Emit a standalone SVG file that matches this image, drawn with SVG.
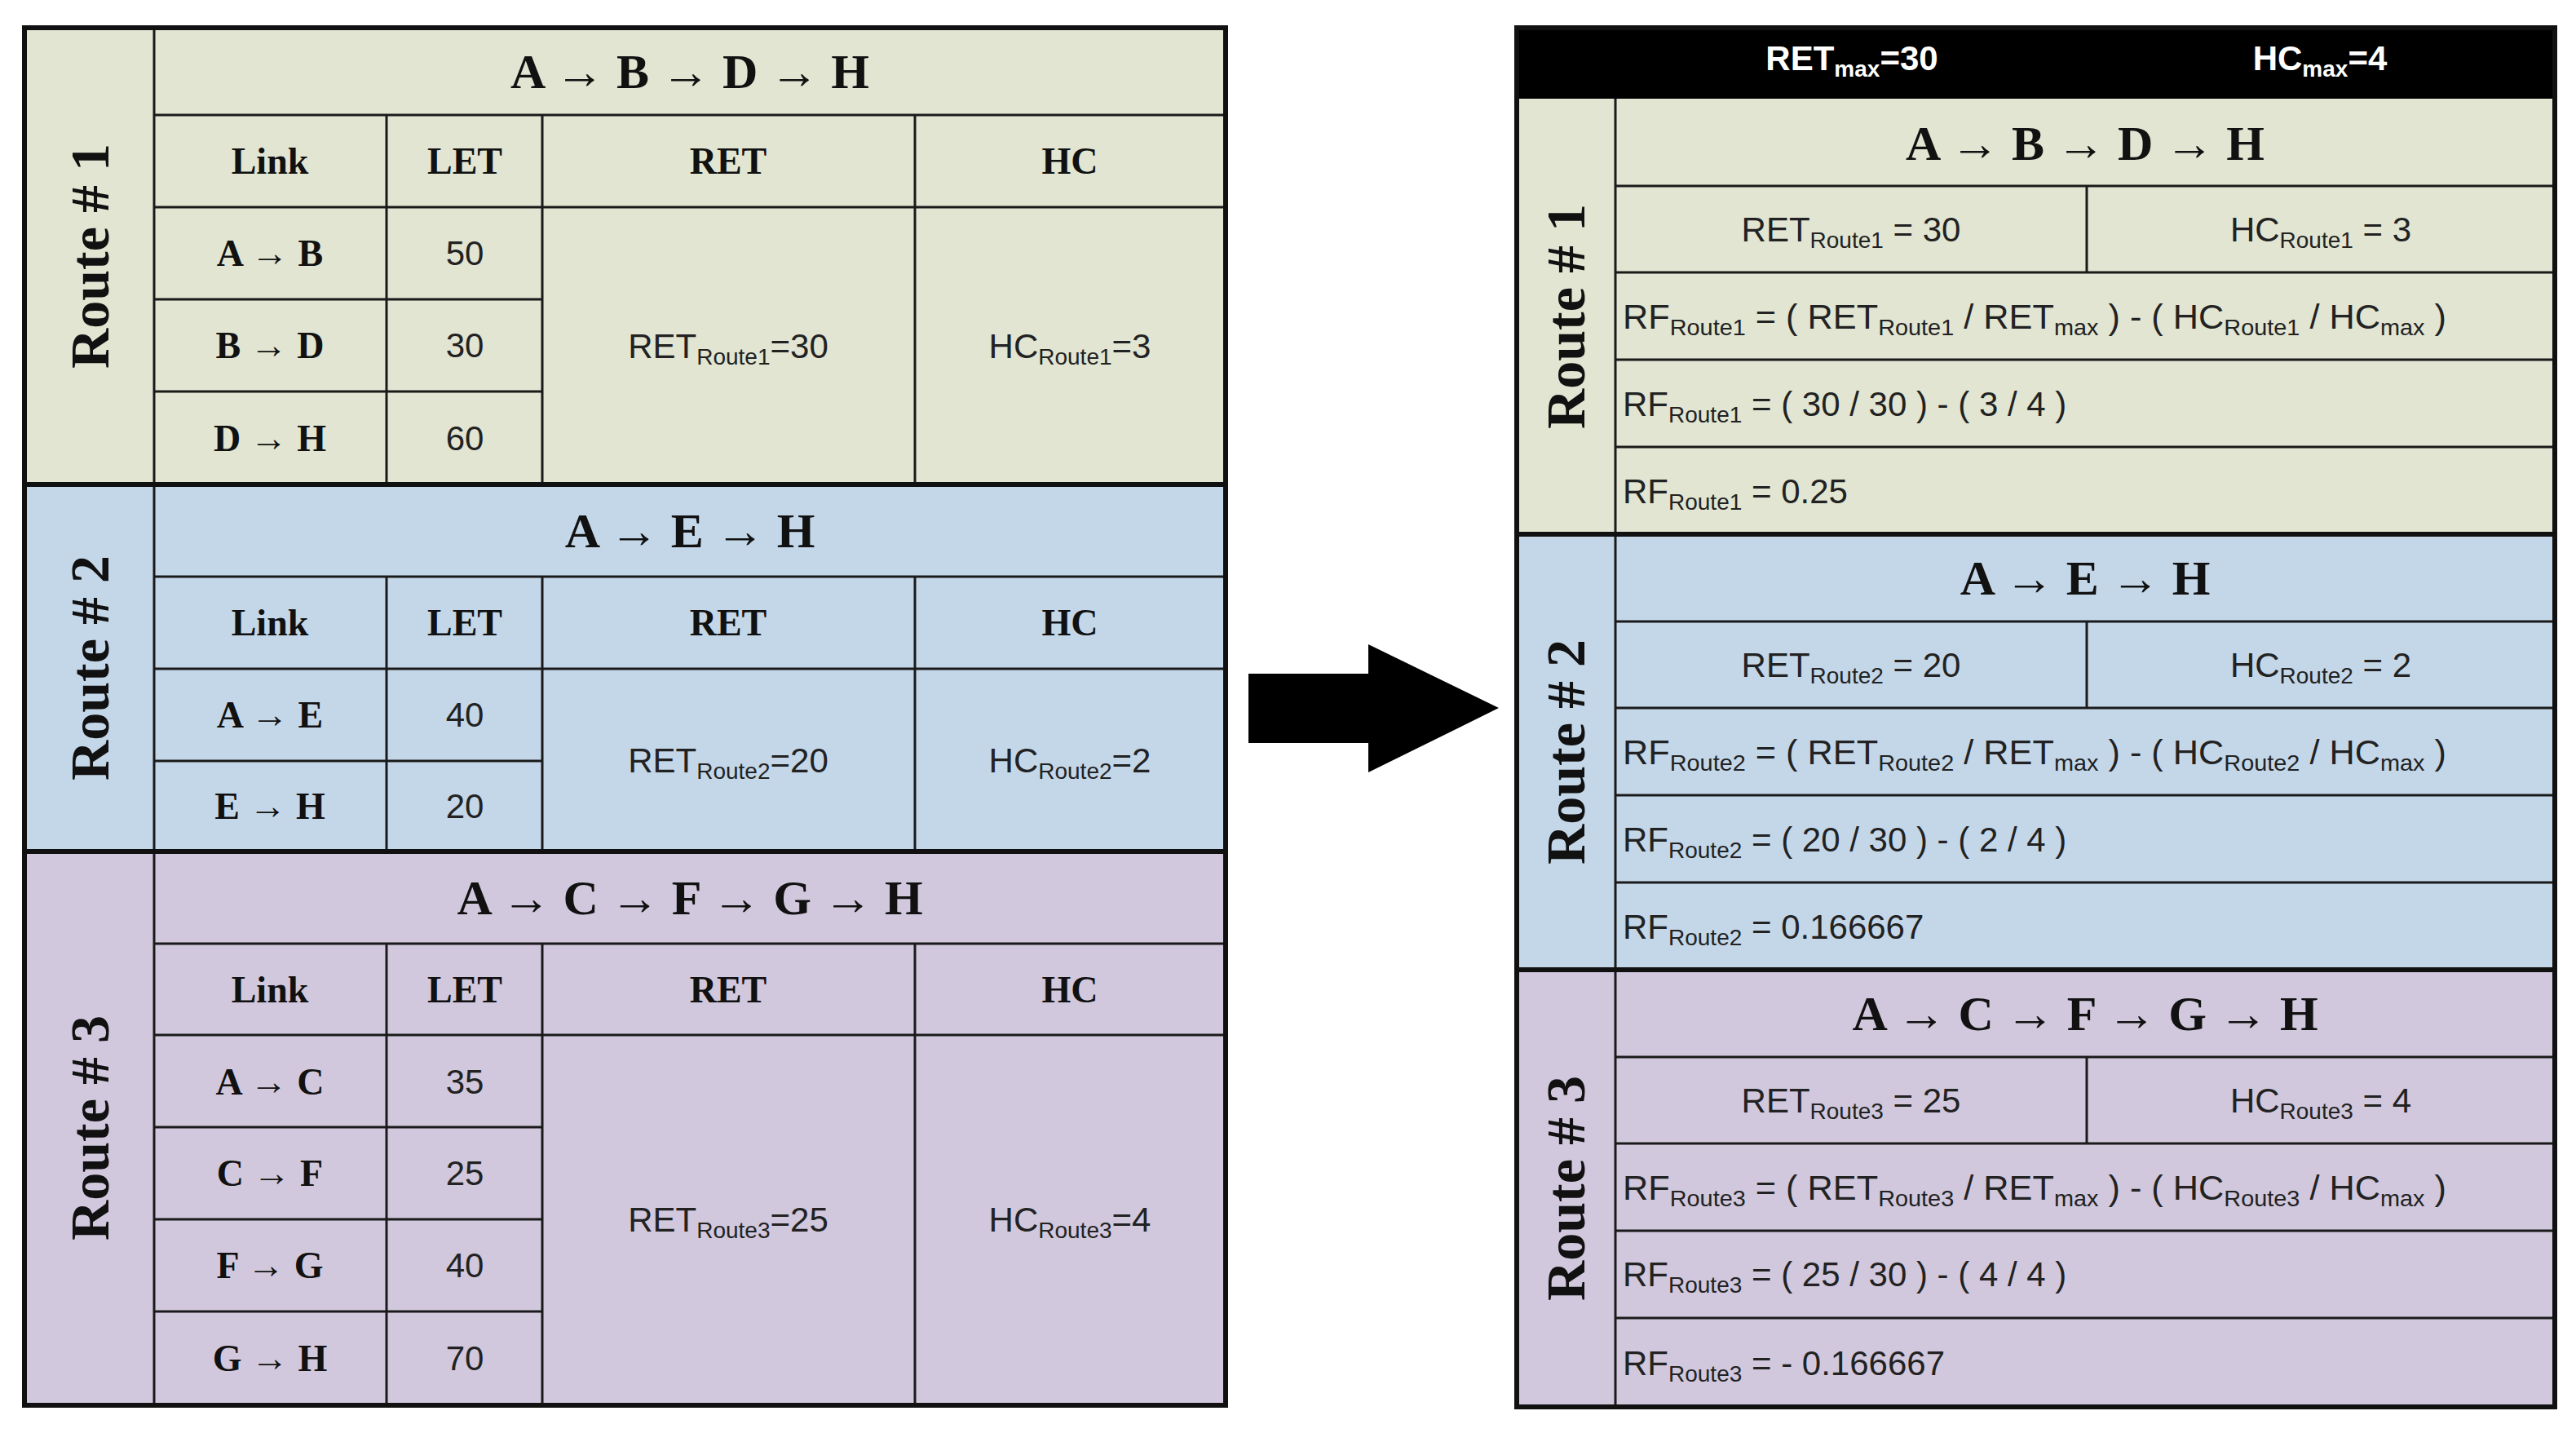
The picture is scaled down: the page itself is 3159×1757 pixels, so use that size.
<svg xmlns="http://www.w3.org/2000/svg" width="3159" height="1757" viewBox="0 0 3159 1757">
<style>
.g{fill:#e1e5d2}.b{fill:#c4d7e9}.p{fill:#d1c8dd}
.ln{stroke:#1a1a1a;stroke-width:3;fill:none}
.tk{stroke:#111;stroke-width:6;fill:none}
.tt{font-family:"Liberation Serif",serif;font-weight:bold;font-size:60px;text-anchor:middle;fill:#111}
.hd{font-family:"Liberation Serif",serif;font-weight:bold;font-size:46px;text-anchor:middle;fill:#111}
.rl{font-family:"Liberation Serif",serif;font-weight:bold;font-size:68px;text-anchor:middle;fill:#111}
.c{font-family:"Liberation Sans",sans-serif;font-size:42px;text-anchor:middle;fill:#222}
.f{font-family:"Liberation Sans",sans-serif;font-size:42px;fill:#222}
.w{font-family:"Liberation Sans",sans-serif;font-weight:bold;font-size:42px;text-anchor:middle;fill:#fff}
.s{font-size:28px}
</style>
<g id="left-table">
<rect class="g" x="30" y="34" width="1473" height="560"/>
<rect class="b" x="30" y="594" width="1473" height="450"/>
<rect class="p" x="30" y="1044" width="1473" height="679"/>
<g class="ln">
<line x1="189" y1="34" x2="189" y2="1723"/>
<line x1="189" y1="141" x2="1503" y2="141"/><line x1="189" y1="254" x2="1503" y2="254"/>
<line x1="189" y1="367" x2="665" y2="367"/><line x1="189" y1="480" x2="665" y2="480"/>
<line x1="474" y1="141" x2="474" y2="594"/><line x1="665" y1="141" x2="665" y2="594"/><line x1="1122" y1="141" x2="1122" y2="594"/>
<line x1="189" y1="707" x2="1503" y2="707"/><line x1="189" y1="820" x2="1503" y2="820"/>
<line x1="189" y1="933" x2="665" y2="933"/>
<line x1="474" y1="707" x2="474" y2="1044"/><line x1="665" y1="707" x2="665" y2="1044"/><line x1="1122" y1="707" x2="1122" y2="1044"/>
<line x1="189" y1="1157" x2="1503" y2="1157"/><line x1="189" y1="1269" x2="1503" y2="1269"/>
<line x1="189" y1="1382" x2="665" y2="1382"/><line x1="189" y1="1495" x2="665" y2="1495"/><line x1="189" y1="1608" x2="665" y2="1608"/>
<line x1="474" y1="1157" x2="474" y2="1723"/><line x1="665" y1="1157" x2="665" y2="1723"/><line x1="1122" y1="1157" x2="1122" y2="1723"/>
</g>
<g class="tk">
<rect x="30" y="34" width="1473" height="1689"/>
<line x1="30" y1="594" x2="1503" y2="594"/><line x1="30" y1="1044" x2="1503" y2="1044"/>
</g>
<text class="rl" transform="translate(133,314) rotate(-90)">Route # 1</text>
<text class="rl" transform="translate(133,819) rotate(-90)">Route # 2</text>
<text class="rl" transform="translate(133,1383) rotate(-90)">Route # 3</text>
<text class="tt" x="846" y="108">A → B → D → H</text>
<text class="tt" x="846" y="671">A → E → H</text>
<text class="tt" x="846" y="1121">A → C → F → G → H</text>
<g>
<text class="hd" x="331" y="213">Link</text><text class="hd" x="570" y="213">LET</text><text class="hd" x="893" y="213">RET</text><text class="hd" x="1312" y="213">HC</text>
<text class="hd" x="331" y="779">Link</text><text class="hd" x="570" y="779">LET</text><text class="hd" x="893" y="779">RET</text><text class="hd" x="1312" y="779">HC</text>
<text class="hd" x="331" y="1229">Link</text><text class="hd" x="570" y="1229">LET</text><text class="hd" x="893" y="1229">RET</text><text class="hd" x="1312" y="1229">HC</text>
<text class="hd" x="331" y="326">A → B</text><text class="hd" x="331" y="439">B → D</text><text class="hd" x="331" y="553">D → H</text>
<text class="hd" x="331" y="892">A → E</text><text class="hd" x="331" y="1004">E → H</text>
<text class="hd" x="331" y="1342">A → C</text><text class="hd" x="331" y="1454">C → F</text><text class="hd" x="331" y="1567">F → G</text><text class="hd" x="331" y="1681">G → H</text>
</g>
<g>
<text class="c" x="570" y="325">50</text><text class="c" x="570" y="438">30</text><text class="c" x="570" y="552">60</text>
<text class="c" x="570" y="891">40</text><text class="c" x="570" y="1003">20</text>
<text class="c" x="570" y="1341">35</text><text class="c" x="570" y="1453">25</text><text class="c" x="570" y="1566">40</text><text class="c" x="570" y="1680">70</text>
<text class="c" x="893" y="439">RET<tspan class="s" dy="8">Route1</tspan><tspan dy="-8">=30</tspan></text>
<text class="c" x="1312" y="439">HC<tspan class="s" dy="8">Route1</tspan><tspan dy="-8">=3</tspan></text>
<text class="c" x="893" y="947">RET<tspan class="s" dy="8">Route2</tspan><tspan dy="-8">=20</tspan></text>
<text class="c" x="1312" y="947">HC<tspan class="s" dy="8">Route2</tspan><tspan dy="-8">=2</tspan></text>
<text class="c" x="893" y="1510">RET<tspan class="s" dy="8">Route3</tspan><tspan dy="-8">=25</tspan></text>
<text class="c" x="1312" y="1510">HC<tspan class="s" dy="8">Route3</tspan><tspan dy="-8">=4</tspan></text>
</g>
</g>
<g id="connectors">
<path d="M1531 826 H1678 V790 L1838 868 L1678 947 V911 H1531 Z" fill="#000"/>
</g>
<g id="right-table">
<rect x="1860" y="34" width="1273" height="87" fill="#000"/>
<text class="w" x="2271" y="86">RET<tspan class="s" dy="8">max</tspan><tspan dy="-8">=30</tspan></text>
<text class="w" x="2845" y="86">HC<tspan class="s" dy="8">max</tspan><tspan dy="-8">=4</tspan></text>
<rect class="g" x="1860" y="121" width="1273" height="534"/>
<rect class="b" x="1860" y="655" width="1273" height="534"/>
<rect class="p" x="1860" y="1189" width="1273" height="536"/>
<g class="ln">
<line x1="1981" y1="121" x2="1981" y2="1725"/>
<line x1="1981" y1="228" x2="3133" y2="228"/><line x1="1981" y1="334" x2="3133" y2="334"/><line x1="1981" y1="441" x2="3133" y2="441"/><line x1="1981" y1="548" x2="3133" y2="548"/>
<line x1="1981" y1="762" x2="3133" y2="762"/><line x1="1981" y1="868" x2="3133" y2="868"/><line x1="1981" y1="975" x2="3133" y2="975"/><line x1="1981" y1="1082" x2="3133" y2="1082"/>
<line x1="1981" y1="1296" x2="3133" y2="1296"/><line x1="1981" y1="1402" x2="3133" y2="1402"/><line x1="1981" y1="1509" x2="3133" y2="1509"/><line x1="1981" y1="1616" x2="3133" y2="1616"/>
<line x1="2559" y1="228" x2="2559" y2="334"/><line x1="2559" y1="762" x2="2559" y2="868"/><line x1="2559" y1="1296" x2="2559" y2="1402"/>
</g>
<g class="tk">
<rect x="1860" y="34" width="1273" height="1691"/>
<line x1="1860" y1="655" x2="3133" y2="655"/><line x1="1860" y1="1189" x2="3133" y2="1189"/>
</g>
<text class="rl" transform="translate(1943,388) rotate(-90)">Route # 1</text>
<text class="rl" transform="translate(1943,922) rotate(-90)">Route # 2</text>
<text class="rl" transform="translate(1943,1457) rotate(-90)">Route # 3</text>
<text class="tt" x="2557" y="196">A → B → D → H</text>
<text class="tt" x="2557" y="729">A → E → H</text>
<text class="tt" x="2557" y="1263">A → C → F → G → H</text>
<text class="c" x="2270" y="296">RET<tspan class="s" dy="8">Route1</tspan><tspan dy="-8"> = 30</tspan></text>
<text class="c" x="2846" y="296">HC<tspan class="s" dy="8">Route1</tspan><tspan dy="-8"> = 3</tspan></text>
<text class="f" x="1990" y="403" textLength="1010" lengthAdjust="spacingAndGlyphs">RF<tspan class="s" dy="8">Route1</tspan><tspan dy="-8"> = ( RET</tspan><tspan class="s" dy="8">Route1</tspan><tspan dy="-8"> / RET</tspan><tspan class="s" dy="8">max</tspan><tspan dy="-8"> ) - ( HC</tspan><tspan class="s" dy="8">Route1</tspan><tspan dy="-8"> / HC</tspan><tspan class="s" dy="8">max</tspan><tspan dy="-8"> )</tspan></text>
<text class="f" x="1990" y="510">RF<tspan class="s" dy="8">Route1</tspan><tspan dy="-8"> = ( 30 / 30 ) - ( 3 / 4 )</tspan></text>
<text class="f" x="1990" y="617">RF<tspan class="s" dy="8">Route1</tspan><tspan dy="-8"> = 0.25</tspan></text>
<text class="c" x="2270" y="830">RET<tspan class="s" dy="8">Route2</tspan><tspan dy="-8"> = 20</tspan></text>
<text class="c" x="2846" y="830">HC<tspan class="s" dy="8">Route2</tspan><tspan dy="-8"> = 2</tspan></text>
<text class="f" x="1990" y="937" textLength="1010" lengthAdjust="spacingAndGlyphs">RF<tspan class="s" dy="8">Route2</tspan><tspan dy="-8"> = ( RET</tspan><tspan class="s" dy="8">Route2</tspan><tspan dy="-8"> / RET</tspan><tspan class="s" dy="8">max</tspan><tspan dy="-8"> ) - ( HC</tspan><tspan class="s" dy="8">Route2</tspan><tspan dy="-8"> / HC</tspan><tspan class="s" dy="8">max</tspan><tspan dy="-8"> )</tspan></text>
<text class="f" x="1990" y="1044">RF<tspan class="s" dy="8">Route2</tspan><tspan dy="-8"> = ( 20 / 30 ) - ( 2 / 4 )</tspan></text>
<text class="f" x="1990" y="1151">RF<tspan class="s" dy="8">Route2</tspan><tspan dy="-8"> = 0.166667</tspan></text>
<text class="c" x="2270" y="1364">RET<tspan class="s" dy="8">Route3</tspan><tspan dy="-8"> = 25</tspan></text>
<text class="c" x="2846" y="1364">HC<tspan class="s" dy="8">Route3</tspan><tspan dy="-8"> = 4</tspan></text>
<text class="f" x="1990" y="1471" textLength="1010" lengthAdjust="spacingAndGlyphs">RF<tspan class="s" dy="8">Route3</tspan><tspan dy="-8"> = ( RET</tspan><tspan class="s" dy="8">Route3</tspan><tspan dy="-8"> / RET</tspan><tspan class="s" dy="8">max</tspan><tspan dy="-8"> ) - ( HC</tspan><tspan class="s" dy="8">Route3</tspan><tspan dy="-8"> / HC</tspan><tspan class="s" dy="8">max</tspan><tspan dy="-8"> )</tspan></text>
<text class="f" x="1990" y="1577">RF<tspan class="s" dy="8">Route3</tspan><tspan dy="-8"> = ( 25 / 30 ) - ( 4 / 4 )</tspan></text>
<text class="f" x="1990" y="1686">RF<tspan class="s" dy="8">Route3</tspan><tspan dy="-8"> = - 0.166667</tspan></text>
</g>
</svg>
